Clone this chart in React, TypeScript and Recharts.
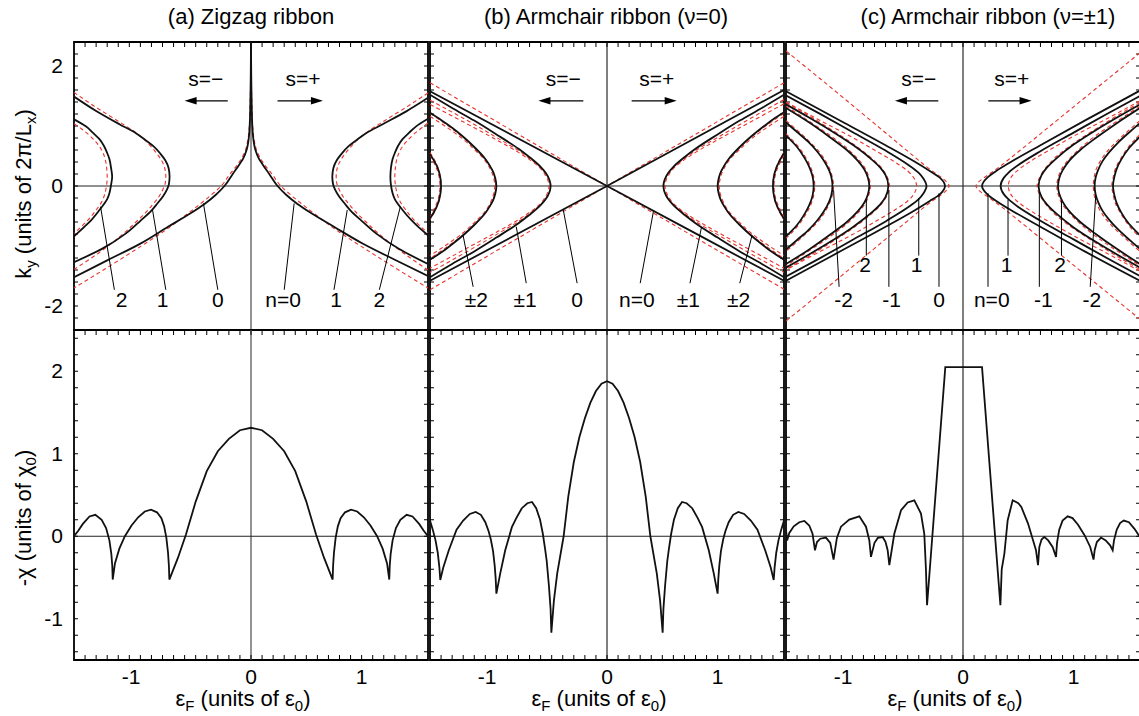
import React from "react";
import {
  ComposedChart,
  Line,
  XAxis,
  YAxis,
  ReferenceLine,
  ReferenceArea,
  ReferenceDot,
} from "recharts";

type P = number[][];

const FONT = '"Liberation Sans", Arial, Helvetica, sans-serif';
const RED = "#e8342c";

// axis ticks
const xTicks = [-1, 0, 1];
const kyTicks = [2, 0, -2];
const chiTicks = [2, 1, 0, -1];
const xMinor = [-1.5, -1.4, -1.3, -1.2, -1.1, -1, -0.9, -0.8, -0.7, -0.6, -0.5, -0.4, -0.3, -0.2, -0.1, 0, 0.1, 0.2, 0.3, 0.4, 0.5, 0.6, 0.7, 0.8, 0.9, 1, 1.1, 1.2, 1.3, 1.4, 1.5];
const kyMinor = [-2.2, -2, -1.8, -1.6, -1.4, -1.2, -1, -0.8, -0.6, -0.4, -0.2, 0, 0.2, 0.4, 0.6, 0.8, 1, 1.2, 1.4, 1.6, 1.8, 2, 2.2];
const chiMinor = [-1.4, -1.2, -1, -0.8, -0.6, -0.4, -0.2, 0, 0.2, 0.4, 0.6, 0.8, 1, 1.2, 1.4, 1.6, 1.8, 2, 2.2, 2.4];

// (a) zigzag: [eps, ky]
const zzBlkPos0 = [[0, 2.4], [0.005, 1.5], [0.012, 1.0], [0.02, 0.8], [0.04, 0.6], [0.07, 0.46], [0.105, 0.36], [0.165, 0.2], [0.24, 0], [0.32, -0.15], [0.42, -0.3], [0.55, -0.46], [0.75, -0.68], [1.0, -0.95], [1.3, -1.23], [1.6, -1.5]];
const zzBlkNeg0 = [[0, 2.4], [-0.005, 1.5], [-0.012, 1.0], [-0.02, 0.8], [-0.04, 0.6], [-0.07, 0.46], [-0.105, 0.36], [-0.165, 0.2], [-0.24, 0], [-0.32, -0.15], [-0.42, -0.3], [-0.55, -0.46], [-0.75, -0.68], [-1.0, -0.96], [-1.3, -1.24], [-1.6, -1.52]];
const zzRedPos0 = [[0, 2.4], [0.006, 1.5], [0.015, 1.0], [0.026, 0.8], [0.05, 0.6], [0.085, 0.46], [0.125, 0.35], [0.19, 0.2], [0.27, 0], [0.36, -0.15], [0.46, -0.3], [0.6, -0.5], [0.8, -0.77], [1.0, -1.01], [1.3, -1.36], [1.6, -1.7]];
const zzRedNeg0 = [[0, 2.4], [-0.006, 1.5], [-0.015, 1.0], [-0.026, 0.8], [-0.05, 0.6], [-0.085, 0.46], [-0.125, 0.35], [-0.19, 0.2], [-0.27, 0], [-0.36, -0.15], [-0.46, -0.3], [-0.6, -0.5], [-0.8, -0.77], [-1.0, -1.01], [-1.3, -1.36], [-1.6, -1.7]];
const zzBlkPos1 = [[1.6, 1.47], [1.4, 1.24], [1.19, 1.03], [1.04, 0.88], [0.95, 0.76], [0.88, 0.66], [0.82, 0.54], [0.775, 0.43], [0.745, 0.3], [0.735, 0.155], [0.742, 0.03], [0.76, -0.06], [0.795, -0.17], [0.85, -0.3], [0.9, -0.41], [1.0, -0.58], [1.13, -0.79], [1.34, -1.05], [1.6, -1.3]];
const zzBlkNeg1 = [[-1.6, 1.49], [-1.4, 1.25], [-1.19, 1.03], [-1.04, 0.88], [-0.95, 0.76], [-0.88, 0.66], [-0.82, 0.54], [-0.775, 0.43], [-0.745, 0.3], [-0.736, 0.16], [-0.742, 0.03], [-0.76, -0.06], [-0.795, -0.17], [-0.85, -0.3], [-0.9, -0.41], [-1.0, -0.58], [-1.13, -0.79], [-1.34, -1.04], [-1.6, -1.27]];
const zzRedPos1 = [[1.6, 1.55], [1.4, 1.31], [1.2, 1.08], [1.05, 0.9], [0.97, 0.78], [0.91, 0.67], [0.855, 0.55], [0.81, 0.43], [0.78, 0.3], [0.77, 0.155], [0.776, 0.04], [0.795, -0.05], [0.83, -0.17], [0.885, -0.3], [0.94, -0.42], [1.04, -0.6], [1.17, -0.82], [1.38, -1.12], [1.6, -1.4]];
const zzRedNeg1 = [[-1.6, 1.56], [-1.4, 1.31], [-1.2, 1.08], [-1.05, 0.9], [-0.97, 0.78], [-0.91, 0.67], [-0.855, 0.55], [-0.81, 0.43], [-0.78, 0.3], [-0.77, 0.155], [-0.776, 0.04], [-0.795, -0.05], [-0.83, -0.17], [-0.885, -0.3], [-0.94, -0.42], [-1.04, -0.6], [-1.17, -0.82], [-1.38, -1.12], [-1.6, -1.39]];
const zzBlkPos2 = [[1.6, 1.12], [1.49, 0.99], [1.43, 0.89], [1.37, 0.78], [1.33, 0.67], [1.3, 0.55], [1.28, 0.45], [1.265, 0.3], [1.26, 0.155], [1.265, 0.02], [1.28, -0.12], [1.3, -0.22], [1.37, -0.4], [1.45, -0.57], [1.5, -0.66], [1.6, -0.82]];
const zzBlkNeg2 = [[-1.6, 1.11], [-1.49, 0.99], [-1.43, 0.89], [-1.37, 0.78], [-1.33, 0.67], [-1.3, 0.55], [-1.28, 0.45], [-1.265, 0.3], [-1.255, 0.155], [-1.265, 0.02], [-1.28, -0.12], [-1.3, -0.22], [-1.37, -0.4], [-1.45, -0.58], [-1.5, -0.67], [-1.6, -0.84]];
const zzRedPos2 = [[1.6, 1.05], [1.53, 0.95], [1.47, 0.86], [1.4, 0.73], [1.35, 0.6], [1.32, 0.46], [1.305, 0.3], [1.3, 0.155], [1.305, 0.02], [1.32, -0.12], [1.345, -0.25], [1.4, -0.4], [1.47, -0.56], [1.53, -0.67], [1.6, -0.78]];
const zzRedNeg2 = [[-1.6, 1.04], [-1.53, 0.95], [-1.47, 0.86], [-1.4, 0.73], [-1.35, 0.6], [-1.32, 0.46], [-1.305, 0.3], [-1.3, 0.155], [-1.305, 0.02], [-1.32, -0.12], [-1.345, -0.25], [-1.4, -0.4], [-1.47, -0.56], [-1.53, -0.67], [-1.6, -0.79]];

// (b) armchair nu=0
const acBlkA = [[-1.6, 1.58], [0, 0], [1.6, -1.58]];
const acBlkB = [[-1.6, -1.58], [0, 0], [1.6, 1.6]];
const acRedA = [[-1.6, 1.72], [0, 0], [1.6, -1.72]];
const acRedB = [[-1.6, -1.73], [0, 0], [1.6, 1.72]];
const acBlkPos1 = [[1.6, 1.52], [1.4, 1.3], [1.2, 1.09], [1.0, 0.86], [0.8, 0.62], [0.7, 0.48], [0.6, 0.32], [0.55, 0.21], [0.52, 0.1], [0.51, 0], [0.52, -0.1], [0.55, -0.21], [0.6, -0.32], [0.7, -0.48], [0.8, -0.62], [1.0, -0.86], [1.2, -1.09], [1.4, -1.3], [1.6, -1.52]];
const acBlkNeg1 = [[-1.6, 1.52], [-1.4, 1.3], [-1.2, 1.09], [-1.0, 0.86], [-0.8, 0.62], [-0.7, 0.48], [-0.6, 0.32], [-0.55, 0.21], [-0.52, 0.1], [-0.51, 0], [-0.52, -0.1], [-0.55, -0.21], [-0.6, -0.32], [-0.7, -0.48], [-0.8, -0.62], [-1.0, -0.86], [-1.2, -1.09], [-1.4, -1.3], [-1.6, -1.52]];
const acBlkPos2 = [[1.6, 1.23], [1.5, 1.11], [1.4, 0.97], [1.3, 0.82], [1.2, 0.65], [1.1, 0.45], [1.06, 0.34], [1.03, 0.24], [1.01, 0.13], [1.0, 0], [1.01, -0.13], [1.03, -0.24], [1.06, -0.34], [1.1, -0.45], [1.2, -0.65], [1.3, -0.82], [1.4, -0.97], [1.5, -1.11], [1.6, -1.23]];
const acBlkNeg2 = [[-1.6, 1.22], [-1.5, 1.1], [-1.4, 0.97], [-1.3, 0.82], [-1.2, 0.65], [-1.1, 0.45], [-1.06, 0.34], [-1.03, 0.24], [-1.01, 0.13], [-1.0, 0], [-1.01, -0.13], [-1.03, -0.24], [-1.06, -0.34], [-1.1, -0.45], [-1.2, -0.65], [-1.3, -0.82], [-1.4, -0.97], [-1.5, -1.11], [-1.6, -1.23]];
const acBlkPos3 = [[1.6, 0.55], [1.56, 0.42], [1.53, 0.3], [1.51, 0.17], [1.5, 0], [1.51, -0.17], [1.53, -0.3], [1.56, -0.42], [1.6, -0.55]];
const acBlkNeg3 = [[-1.6, 0.53], [-1.56, 0.41], [-1.53, 0.3], [-1.51, 0.17], [-1.5, 0], [-1.51, -0.17], [-1.53, -0.3], [-1.56, -0.42], [-1.6, -0.54]];
const acRedPos1a = [[1.6, 1.44], [1.3, 1.13], [1.0, 0.81], [0.8, 0.59], [0.7, 0.46], [0.6, 0.31], [0.55, 0.2], [0.52, 0.1], [0.508, 0], [0.52, -0.1], [0.55, -0.2], [0.6, -0.31], [0.7, -0.46], [0.8, -0.59], [1.0, -0.81], [1.3, -1.13], [1.6, -1.44]];
const acRedPos1b = [[1.6, 1.37], [1.3, 1.07], [1.0, 0.77], [0.8, 0.56], [0.7, 0.44], [0.6, 0.29], [0.56, 0.19], [0.535, 0.1], [0.525, 0], [0.535, -0.1], [0.56, -0.19], [0.6, -0.29], [0.7, -0.44], [0.8, -0.56], [1.0, -0.77], [1.3, -1.07], [1.6, -1.37]];
const acRedNeg1a = [[-1.6, 1.43], [-1.3, 1.13], [-1.0, 0.81], [-0.8, 0.59], [-0.7, 0.46], [-0.6, 0.31], [-0.55, 0.2], [-0.52, 0.1], [-0.508, 0], [-0.52, -0.1], [-0.55, -0.2], [-0.6, -0.31], [-0.7, -0.46], [-0.8, -0.59], [-1.0, -0.81], [-1.3, -1.13], [-1.6, -1.44]];
const acRedNeg1b = [[-1.6, 1.36], [-1.3, 1.07], [-1.0, 0.77], [-0.8, 0.56], [-0.7, 0.44], [-0.6, 0.29], [-0.56, 0.19], [-0.535, 0.1], [-0.525, 0], [-0.535, -0.1], [-0.56, -0.19], [-0.6, -0.29], [-0.7, -0.44], [-0.8, -0.56], [-1.0, -0.77], [-1.3, -1.07], [-1.6, -1.37]];
const acRedPos2a = [[1.6, 1.21], [1.45, 1.02], [1.3, 0.81], [1.2, 0.64], [1.1, 0.45], [1.05, 0.31], [1.02, 0.18], [1.005, 0], [1.02, -0.18], [1.05, -0.31], [1.1, -0.45], [1.2, -0.64], [1.3, -0.81], [1.45, -1.02], [1.6, -1.21]];
const acRedPos2b = [[1.6, 1.16], [1.45, 0.98], [1.3, 0.78], [1.2, 0.61], [1.1, 0.42], [1.06, 0.3], [1.03, 0.17], [1.015, 0], [1.03, -0.17], [1.06, -0.3], [1.1, -0.42], [1.2, -0.61], [1.3, -0.78], [1.45, -0.98], [1.6, -1.16]];
const acRedNeg2a = [[-1.6, 1.21], [-1.45, 1.02], [-1.3, 0.81], [-1.2, 0.64], [-1.1, 0.45], [-1.05, 0.31], [-1.02, 0.18], [-1.005, 0], [-1.02, -0.18], [-1.05, -0.31], [-1.1, -0.45], [-1.2, -0.64], [-1.3, -0.81], [-1.45, -1.02], [-1.6, -1.21]];
const acRedNeg2b = [[-1.6, 1.16], [-1.45, 0.98], [-1.3, 0.78], [-1.2, 0.61], [-1.1, 0.42], [-1.06, 0.3], [-1.03, 0.17], [-1.015, 0], [-1.03, -0.17], [-1.06, -0.3], [-1.1, -0.42], [-1.2, -0.61], [-1.3, -0.78], [-1.45, -0.98], [-1.6, -1.16]];
const acRedPos3a = [[1.6, 0.56], [1.55, 0.4], [1.52, 0.26], [1.505, 0.13], [1.5, 0], [1.505, -0.13], [1.52, -0.26], [1.55, -0.4], [1.6, -0.56]];
const acRedPos3b = [[1.6, 0.52], [1.56, 0.37], [1.53, 0.24], [1.515, 0.12], [1.51, 0], [1.515, -0.12], [1.53, -0.24], [1.56, -0.37], [1.6, -0.52]];
const acRedNeg3a = [[-1.6, 0.56], [-1.55, 0.4], [-1.52, 0.26], [-1.505, 0.13], [-1.5, 0], [-1.505, -0.13], [-1.52, -0.26], [-1.55, -0.4], [-1.6, -0.56]];
const acRedNeg3b = [[-1.6, 0.52], [-1.56, 0.37], [-1.53, 0.24], [-1.515, 0.12], [-1.51, 0], [-1.515, -0.12], [-1.53, -0.24], [-1.56, -0.37], [-1.6, -0.52]];

// (c) armchair nu=+-1
const cBlkPos0 = [[1.6, 1.59], [1.1, 1.09], [0.7, 0.68], [0.45, 0.42], [0.3, 0.25], [0.22, 0.14], [0.172, 0], [0.22, -0.14], [0.3, -0.25], [0.45, -0.42], [0.7, -0.68], [1.1, -1.09], [1.6, -1.58]];
const cBlkNeg0 = [[-1.6, 1.58], [-1.1, 1.08], [-0.7, 0.68], [-0.45, 0.42], [-0.3, 0.25], [-0.21, 0.14], [-0.163, 0], [-0.21, -0.14], [-0.3, -0.25], [-0.45, -0.42], [-0.7, -0.68], [-1.1, -1.08], [-1.6, -1.58]];
const cBlkPos1 = [[1.6, 1.5], [1.3, 1.2], [1.0, 0.89], [0.7, 0.58], [0.5, 0.35], [0.41, 0.22], [0.37, 0.14], [0.34, 0], [0.37, -0.14], [0.41, -0.22], [0.5, -0.35], [0.7, -0.58], [1.0, -0.89], [1.3, -1.2], [1.6, -1.5]];
const cBlkNeg1 = [[-1.6, 1.51], [-1.3, 1.21], [-1.0, 0.9], [-0.7, 0.59], [-0.5, 0.36], [-0.4, 0.22], [-0.36, 0.13], [-0.33, 0], [-0.36, -0.13], [-0.4, -0.22], [-0.5, -0.36], [-0.7, -0.59], [-1.0, -0.9], [-1.3, -1.21], [-1.6, -1.51]];
const cBlkPosM1 = [[1.6, 1.36], [1.4, 1.15], [1.2, 0.93], [1.0, 0.69], [0.85, 0.47], [0.76, 0.31], [0.71, 0.18], [0.683, 0], [0.71, -0.18], [0.76, -0.31], [0.85, -0.47], [1.0, -0.69], [1.2, -0.93], [1.4, -1.15], [1.6, -1.36]];
const cBlkNegM1 = [[-1.6, 1.36], [-1.4, 1.15], [-1.2, 0.93], [-1.0, 0.69], [-0.85, 0.48], [-0.75, 0.31], [-0.7, 0.18], [-0.675, 0], [-0.7, -0.18], [-0.75, -0.31], [-0.85, -0.48], [-1.0, -0.69], [-1.2, -0.93], [-1.4, -1.15], [-1.6, -1.36]];
const cBlkPos2 = [[1.6, 1.3], [1.4, 1.06], [1.2, 0.8], [1.06, 0.6], [0.96, 0.42], [0.9, 0.26], [0.87, 0.13], [0.859, 0], [0.87, -0.13], [0.9, -0.26], [0.96, -0.42], [1.06, -0.6], [1.2, -0.8], [1.4, -1.06], [1.6, -1.3]];
const cBlkNeg2 = [[-1.6, 1.3], [-1.4, 1.07], [-1.2, 0.81], [-1.05, 0.6], [-0.95, 0.42], [-0.89, 0.27], [-0.86, 0.14], [-0.847, 0], [-0.86, -0.14], [-0.89, -0.27], [-0.95, -0.42], [-1.05, -0.6], [-1.2, -0.81], [-1.4, -1.07], [-1.6, -1.3]];
const cBlkPosM2 = [[1.6, 1.05], [1.5, 0.89], [1.4, 0.72], [1.32, 0.56], [1.26, 0.41], [1.22, 0.26], [1.2, 0.15], [1.19, 0], [1.2, -0.15], [1.22, -0.26], [1.26, -0.41], [1.32, -0.56], [1.4, -0.72], [1.5, -0.89], [1.6, -1.05]];
const cBlkNegM2 = [[-1.6, 1.06], [-1.5, 0.9], [-1.4, 0.74], [-1.32, 0.58], [-1.26, 0.43], [-1.21, 0.26], [-1.19, 0.15], [-1.18, 0], [-1.19, -0.15], [-1.21, -0.26], [-1.26, -0.43], [-1.32, -0.58], [-1.4, -0.74], [-1.5, -0.9], [-1.6, -1.06]];
const cBlkPos3 = [[1.6, 0.82], [1.5, 0.63], [1.43, 0.44], [1.39, 0.29], [1.37, 0.165], [1.356, 0], [1.37, -0.165], [1.39, -0.29], [1.43, -0.44], [1.5, -0.63], [1.6, -0.82]];
const cBlkNeg3 = [[-1.6, 0.84], [-1.5, 0.65], [-1.43, 0.46], [-1.39, 0.32], [-1.36, 0.16], [-1.35, 0], [-1.36, -0.16], [-1.39, -0.32], [-1.43, -0.46], [-1.5, -0.65], [-1.6, -0.84]];
const cRedPosV = [[1.6, 2.22], [1.2, 1.62], [0.8, 1.02], [0.5, 0.57], [0.3, 0.28], [0.2, 0.15], [0.155, 0.09], [0.128, 0.04], [0.117, 0], [0.128, -0.04], [0.155, -0.09], [0.2, -0.15], [0.3, -0.28], [0.5, -0.57], [0.8, -1.02], [1.2, -1.62], [1.6, -2.22]];
const cRedNegV = [[-1.6, 2.25], [-1.2, 1.65], [-0.8, 1.04], [-0.5, 0.58], [-0.3, 0.28], [-0.2, 0.15], [-0.16, 0.09], [-0.135, 0.04], [-0.125, 0], [-0.135, -0.04], [-0.16, -0.09], [-0.2, -0.15], [-0.3, -0.28], [-0.5, -0.58], [-0.8, -1.04], [-1.2, -1.65], [-1.6, -2.25]];
const cRedPos1 = [[1.6, 1.42], [1.3, 1.12], [1.0, 0.83], [0.8, 0.62], [0.6, 0.4], [0.5, 0.27], [0.44, 0.16], [0.41, 0], [0.44, -0.16], [0.5, -0.27], [0.6, -0.4], [0.8, -0.62], [1.0, -0.83], [1.3, -1.12], [1.6, -1.42]];
const cRedNeg1 = [[-1.6, 1.4], [-1.3, 1.1], [-1.0, 0.81], [-0.8, 0.6], [-0.6, 0.38], [-0.5, 0.25], [-0.45, 0.15], [-0.42, 0], [-0.45, -0.15], [-0.5, -0.25], [-0.6, -0.38], [-0.8, -0.6], [-1.0, -0.81], [-1.3, -1.1], [-1.6, -1.4]];
const cRedPosM1 = [[1.6, 1.39], [1.4, 1.18], [1.2, 0.95], [1.0, 0.71], [0.85, 0.5], [0.76, 0.33], [0.7, 0.17], [0.67, 0], [0.7, -0.17], [0.76, -0.33], [0.85, -0.5], [1.0, -0.71], [1.2, -0.95], [1.4, -1.18], [1.6, -1.39]];
const cRedNegM1 = [[-1.6, 1.39], [-1.4, 1.18], [-1.2, 0.95], [-1.0, 0.71], [-0.85, 0.5], [-0.75, 0.33], [-0.69, 0.17], [-0.665, 0], [-0.69, -0.17], [-0.75, -0.33], [-0.85, -0.5], [-1.0, -0.71], [-1.2, -0.95], [-1.4, -1.18], [-1.6, -1.39]];
const cRedPos2 = [[1.6, 1.33], [1.4, 1.09], [1.2, 0.84], [1.06, 0.63], [0.96, 0.45], [0.89, 0.28], [0.86, 0.14], [0.848, 0], [0.86, -0.14], [0.89, -0.28], [0.96, -0.45], [1.06, -0.63], [1.2, -0.84], [1.4, -1.09], [1.6, -1.33]];
const cRedNeg2 = [[-1.6, 1.33], [-1.4, 1.09], [-1.2, 0.84], [-1.05, 0.63], [-0.95, 0.45], [-0.88, 0.28], [-0.85, 0.14], [-0.837, 0], [-0.85, -0.14], [-0.88, -0.28], [-0.95, -0.45], [-1.05, -0.63], [-1.2, -0.84], [-1.4, -1.09], [-1.6, -1.33]];
const cRedPosM2 = [[1.6, 1.09], [1.5, 0.93], [1.4, 0.76], [1.3, 0.57], [1.24, 0.41], [1.2, 0.26], [1.185, 0.14], [1.178, 0], [1.185, -0.14], [1.2, -0.26], [1.24, -0.41], [1.3, -0.57], [1.4, -0.76], [1.5, -0.93], [1.6, -1.09]];
const cRedNegM2 = [[-1.6, 1.09], [-1.5, 0.93], [-1.4, 0.76], [-1.3, 0.57], [-1.24, 0.41], [-1.2, 0.26], [-1.18, 0.14], [-1.17, 0], [-1.18, -0.14], [-1.2, -0.26], [-1.24, -0.41], [-1.3, -0.57], [-1.4, -0.76], [-1.5, -0.93], [-1.6, -1.09]];
const cRedPos3 = [[1.6, 0.86], [1.5, 0.66], [1.43, 0.47], [1.38, 0.3], [1.355, 0.12], [1.345, 0], [1.355, -0.12], [1.38, -0.3], [1.43, -0.47], [1.5, -0.66], [1.6, -0.86]];
const cRedNeg3 = [[-1.6, 0.87], [-1.5, 0.68], [-1.43, 0.5], [-1.38, 0.33], [-1.35, 0.16], [-1.34, 0], [-1.35, -0.16], [-1.38, -0.33], [-1.43, -0.5], [-1.5, -0.68], [-1.6, -0.87]];

// -chi curves: [epsF, -chi]
const chiZig = [[-1.6, 0.0], [-1.56, 0.07], [-1.52, 0.15], [-1.46, 0.24], [-1.407, 0.26], [-1.35, 0.2], [-1.31, 0.1], [-1.28, -0.05], [-1.262, -0.22], [-1.254, -0.36], [-1.25, -0.525], [-1.23, -0.33], [-1.19, -0.15], [-1.14, 0.0], [-1.08, 0.13], [-1.02, 0.23], [-0.96, 0.3], [-0.904, 0.323], [-0.85, 0.29], [-0.81, 0.22], [-0.785, 0.12], [-0.765, -0.02], [-0.75, -0.2], [-0.742, -0.36], [-0.738, -0.525], [-0.66, -0.26], [-0.588, 0.02], [-0.5, 0.42], [-0.4, 0.79], [-0.3, 1.03], [-0.2, 1.18], [-0.1, 1.285], [0, 1.315], [0.1, 1.285], [0.2, 1.18], [0.3, 1.03], [0.4, 0.79], [0.5, 0.42], [0.588, 0.02], [0.66, -0.26], [0.738, -0.525], [0.742, -0.36], [0.75, -0.2], [0.765, -0.02], [0.785, 0.12], [0.81, 0.22], [0.85, 0.29], [0.904, 0.323], [0.96, 0.3], [1.02, 0.23], [1.08, 0.13], [1.14, 0.0], [1.19, -0.15], [1.23, -0.33], [1.25, -0.525], [1.254, -0.36], [1.262, -0.22], [1.28, -0.05], [1.31, 0.1], [1.35, 0.2], [1.407, 0.26], [1.46, 0.24], [1.52, 0.15], [1.56, 0.07], [1.6, 0.0]];
const chiArm0 = [[-1.6, 0.19], [-1.575, 0.08], [-1.55, -0.05], [-1.53, -0.2], [-1.515, -0.38], [-1.507, -0.53], [-1.48, -0.38], [-1.43, -0.17], [-1.36, 0.08], [-1.3, 0.19], [-1.24, 0.27], [-1.187, 0.295], [-1.14, 0.26], [-1.1, 0.17], [-1.07, 0.06], [-1.05, -0.04], [-1.03, -0.18], [-1.015, -0.36], [-1.006, -0.52], [-1.0, -0.695], [-0.965, -0.45], [-0.92, -0.17], [-0.86, 0.11], [-0.82, 0.22], [-0.77, 0.34], [-0.72, 0.4], [-0.678, 0.416], [-0.64, 0.34], [-0.605, 0.2], [-0.58, 0.03], [-0.56, -0.15], [-0.545, -0.3], [-0.525, -0.6], [-0.51, -0.88], [-0.503, -1.17], [-0.48, -0.78], [-0.45, -0.45], [-0.392, 0], [-0.35, 0.48], [-0.3, 0.9], [-0.25, 1.2], [-0.2, 1.43], [-0.15, 1.62], [-0.1, 1.76], [-0.05, 1.85], [0, 1.879], [0.05, 1.85], [0.1, 1.76], [0.15, 1.62], [0.2, 1.43], [0.25, 1.2], [0.3, 0.9], [0.35, 0.48], [0.392, 0], [0.45, -0.45], [0.48, -0.78], [0.503, -1.17], [0.51, -0.88], [0.525, -0.6], [0.545, -0.3], [0.56, -0.15], [0.58, 0.03], [0.605, 0.2], [0.64, 0.34], [0.678, 0.416], [0.72, 0.4], [0.77, 0.34], [0.82, 0.22], [0.86, 0.11], [0.92, -0.17], [0.965, -0.45], [1.0, -0.695], [1.006, -0.52], [1.015, -0.36], [1.03, -0.18], [1.05, -0.04], [1.07, 0.06], [1.1, 0.17], [1.14, 0.26], [1.187, 0.295], [1.24, 0.27], [1.3, 0.19], [1.36, 0.08], [1.43, -0.17], [1.48, -0.38], [1.507, -0.53], [1.515, -0.38], [1.53, -0.2], [1.55, -0.05], [1.575, 0.08], [1.6, 0.19]];
const chiArm1 = [[-1.6, 0.08], [-1.59, -0.05], [-1.57, 0.04], [-1.53, 0.12], [-1.48, 0.17], [-1.434, 0.186], [-1.39, 0.13], [-1.36, 0.03], [-1.338, -0.17], [-1.32, -0.07], [-1.29, -0.03], [-1.239, -0.016], [-1.2, -0.08], [-1.17, -0.283], [-1.14, -0.02], [-1.103, 0.116], [-1.028, 0.202], [-0.937, 0.242], [-0.877, 0.116], [-0.847, -0.048], [-0.832, -0.25], [-0.8, -0.08], [-0.77, -0.02], [-0.726, -0.01], [-0.7, -0.07], [-0.681, -0.17], [-0.666, -0.35], [-0.621, 0.03], [-0.56, 0.315], [-0.5, 0.41], [-0.44, 0.436], [-0.38, 0.275], [-0.35, 0.03], [-0.335, -0.4], [-0.325, -0.836], [-0.16, 2.05], [0.172, 2.05], [0.338, -0.836], [0.35, -0.4], [0.374, -0.21], [0.404, 0.194], [0.449, 0.436], [0.5, 0.4], [0.527, 0.356], [0.588, 0.154], [0.633, -0.048], [0.66, -0.17], [0.678, -0.35], [0.69, -0.13], [0.71, -0.04], [0.735, -0.008], [0.77, -0.05], [0.81, -0.13], [0.841, -0.25], [0.85, -0.08], [0.87, 0.08], [0.9, 0.19], [0.946, 0.242], [0.99, 0.22], [1.04, 0.14], [1.1, 0.01], [1.15, -0.13], [1.18, -0.283], [1.19, -0.17], [1.21, -0.07], [1.248, -0.016], [1.29, -0.05], [1.33, -0.11], [1.353, -0.17], [1.365, -0.05], [1.39, 0.08], [1.42, 0.16], [1.453, 0.19], [1.5, 0.17], [1.55, 0.09], [1.6, -0.01]];

// annotations: text at [eps, ky]; leaders and arrows as [x1, y1, x2, y2]
type Note = { x: number; y: number; t: string };
const notesA: Note[] = [
  { x: -0.41, y: 1.79, t: "s=\u2212" }, { x: 0.47, y: 1.79, t: "s=+" },
  { x: -1.17, y: -1.9, t: "2" }, { x: -0.8, y: -1.9, t: "1" }, { x: -0.3, y: -1.9, t: "0" },
  { x: 0.29, y: -1.9, t: "n=0" }, { x: 0.77, y: -1.9, t: "1" }, { x: 1.16, y: -1.9, t: "2" },
];
const leadersA = [[-1.235, -1.73, -1.36, -0.345], [-0.77, -1.73, -0.89, -0.4], [-0.3, -1.73, -0.43, -0.29], [0.3, -1.73, 0.39, -0.29], [0.75, -1.73, 0.87, -0.4], [1.16, -1.73, 1.35, -0.345]];
const arrowsA = [[-0.21, 1.42, -0.6, 1.42], [0.24, 1.42, 0.65, 1.42]];

const notesB: Note[] = [
  { x: -0.395, y: 1.79, t: "s=\u2212" }, { x: 0.45, y: 1.79, t: "s=+" },
  { x: -1.18, y: -1.9, t: "\u00b12" }, { x: -0.74, y: -1.9, t: "\u00b11" }, { x: -0.27, y: -1.9, t: "0" },
  { x: 0.27, y: -1.9, t: "n=0" }, { x: 0.735, y: -1.9, t: "\u00b11" }, { x: 1.19, y: -1.9, t: "\u00b12" },
];
const leadersB = [[-1.21, -1.68, -1.3, -0.83], [-0.73, -1.62, -0.82, -0.68], [-0.27, -1.62, -0.395, -0.4], [0.3, -1.62, 0.42, -0.42], [0.75, -1.62, 0.855, -0.68], [1.2, -1.62, 1.31, -0.83]];
const arrowsB = [[-0.214, 1.42, -0.62, 1.42], [0.223, 1.42, 0.63, 1.42]];

const notesC: Note[] = [
  { x: -0.4, y: 1.79, t: "s=\u2212" }, { x: 0.44, y: 1.79, t: "s=+" },
  { x: -0.886, y: -1.32, t: "2" }, { x: -0.42, y: -1.32, t: "1" }, { x: 0.395, y: -1.32, t: "1" }, { x: 0.877, y: -1.32, t: "2" },
  { x: -1.08, y: -1.9, t: "-2" }, { x: -0.645, y: -1.9, t: "-1" }, { x: -0.217, y: -1.9, t: "0" },
  { x: 0.26, y: -1.9, t: "n=0" }, { x: 0.726, y: -1.9, t: "-1" }, { x: 1.164, y: -1.9, t: "-2" },
];
const leadersC = [[-0.874, -1.16, -0.874, -0.23], [-0.4, -1.16, -0.4, -0.2], [0.407, -1.16, 0.407, -0.23], [0.89, -1.16, 0.89, -0.25], [-1.12, -1.68, -1.17, -0.07], [-0.67, -1.68, -0.67, -0.07], [-0.217, -1.68, -0.217, -0.12], [0.226, -1.68, 0.226, -0.12], [0.69, -1.68, 0.69, -0.1], [1.15, -1.68, 1.2, -0.15]];
const arrowsC = [[-0.223, 1.42, -0.615, 1.42], [0.229, 1.42, 0.62, 1.42]];

const toRows = (p: P) => p.map(([x, y]) => ({ x, y }));

const PLOT_W = 354;
const ML = 74;

const ArrowShape = (p: any) => {
  const { x1, y1, x2, y2 } = p;
  const dir = Math.sign(x2 - x1);
  const hx = x2 - dir * 12;
  return (
    <g>
      <line x1={x1} y1={y1} x2={hx + dir * 2} y2={y2} stroke="#000" strokeWidth={1.3} />
      <polygon points={`${x2},${y2} ${hx},${y2 - 3.8} ${hx},${y2 + 3.8}`} fill="#000" />
    </g>
  );
};

// short inward tick marks drawn at the ends of a reference line
const xTickShape = (withBottom: boolean) => (p: any) => {
  const top = Math.min(p.y1, p.y2);
  const bot = Math.max(p.y1, p.y2);
  return (
    <g>
      <line x1={p.x1} x2={p.x1} y1={top} y2={top + 5} stroke="#000" strokeWidth={1} />
      {withBottom && <line x1={p.x1} x2={p.x1} y1={bot - 5} y2={bot} stroke="#000" strokeWidth={1} />}
    </g>
  );
};
const yTickShape = (p: any) => {
  const l = Math.min(p.x1, p.x2);
  const r = Math.max(p.x1, p.x2);
  return (
    <g>
      <line x1={l} x2={l + 4} y1={p.y1} y2={p.y1} stroke="#000" strokeWidth={1} />
      <line x1={r - 4} x2={r} y1={p.y1} y2={p.y1} stroke="#000" strokeWidth={1} />
    </g>
  );
};
const xLabelShape = (v: number) => (p: any) => {
  const bot = Math.max(p.y1, p.y2);
  return (
    <text x={p.x1} y={bot + 24} textAnchor={v < 0 ? "end" : "middle"} fontSize={21} fontFamily={FONT} fill="#000">
      {String(v)}
    </text>
  );
};

const yTick = (p: any) => (
  <text x={p.x - 11} y={p.y + 7} textAnchor="end" fontSize={21} fontFamily={FONT} fill="#000">
    {String(p.payload.value)}
  </text>
);

interface PanelProps {
  left: number;
  top: number;
  h: number;
  yDomain: number[];
  yMinor: number[];
  blacks: P[];
  reds: P[];
  bottom: boolean;
  yLabels?: number[];
  notes?: Note[];
  leaders?: number[][];
  arrows?: number[][];
  zeroColor: string;
}

function Panel(props: PanelProps) {
  const MT = 12;
  const MR = 12;
  const MB = props.bottom ? 50 : 12;
  const W = ML + PLOT_W + MR;
  const H = MT + props.h + MB;
  const xd = [-1.6, 1.6];
  const yd = props.yDomain;
  const curve = props.bottom ? "linear" : "monotoneY";
  const margin = { top: MT, right: MR, bottom: MB, left: props.yLabels ? ML - 1 : ML };
  return (
    <div style={{ position: "absolute", left: props.left - ML, top: props.top - MT }}>
      <ComposedChart width={W} height={H} margin={margin}>
        <XAxis xAxisId="m" dataKey="x" type="number" domain={xd} allowDataOverflow hide />
        <YAxis yAxisId="m" dataKey="y" type="number" domain={yd} allowDataOverflow hide />
        {props.yLabels && (
          <YAxis yAxisId="ll" orientation="left" type="number" domain={yd} allowDataOverflow ticks={props.yLabels} interval={0} tick={yTick} tickLine={false} tickSize={0} tickMargin={0} axisLine={false} width={1} />
        )}

        <ReferenceLine xAxisId="m" yAxisId="m" x={0} stroke={props.zeroColor} strokeWidth={props.zeroColor === "#000" ? 1 : 1.6} />
        <ReferenceLine xAxisId="m" yAxisId="m" y={0} stroke="#222" strokeWidth={1} />

        {xMinor.map((v, i) => (
          <ReferenceLine key={"xt" + i} xAxisId="m" yAxisId="m" x={v} ifOverflow="visible" shape={xTickShape(props.bottom)} />
        ))}
        {props.yMinor.map((v, i) => (
          <ReferenceLine key={"yt" + i} xAxisId="m" yAxisId="m" y={v} ifOverflow="visible" shape={yTickShape} />
        ))}
        {props.bottom && xTicks.map((v, i) => (
          <ReferenceLine key={"xl" + i} xAxisId="m" yAxisId="m" x={v} ifOverflow="visible" shape={xLabelShape(v)} />
        ))}

        {props.reds.map((p, i) => (
          <Line key={"r" + i} xAxisId="m" yAxisId="m" data={toRows(p)} dataKey="y" type={curve as any}
            stroke={RED} strokeWidth={1.1} strokeDasharray="4 3" dot={false} activeDot={false} isAnimationActive={false} />
        ))}
        {props.blacks.map((p, i) => (
          <Line key={"b" + i} xAxisId="m" yAxisId="m" data={toRows(p)} dataKey="y" type={curve as any}
            stroke="#111" strokeWidth={1.8} dot={false} activeDot={false} isAnimationActive={false} />
        ))}

        {(props.leaders || []).map((s, i) => (
          <ReferenceLine key={"l" + i} xAxisId="m" yAxisId="m" segment={[{ x: s[0], y: s[1] }, { x: s[2], y: s[3] }]}
            stroke="#000" strokeWidth={1} ifOverflow="visible" />
        ))}
        {(props.arrows || []).map((s, i) => (
          <ReferenceLine key={"a" + i} xAxisId="m" yAxisId="m" segment={[{ x: s[0], y: s[1] }, { x: s[2], y: s[3] }]}
            ifOverflow="visible" shape={ArrowShape} />
        ))}
        {(props.notes || []).map((n, i) => (
          <ReferenceDot key={"n" + i} xAxisId="m" yAxisId="m" x={n.x} y={n.y} r={0} ifOverflow="visible"
            shape={(d: any) => (
              <text x={d.cx} y={d.cy + 7} textAnchor="middle" fontSize={21} fontFamily={FONT} fill="#000">
                {n.t}
              </text>
            )} />
        ))}

        <ReferenceArea xAxisId="m" yAxisId="m" x1={xd[0]} x2={xd[1]} y1={yd[0]} y2={yd[1]}
          fill="none" fillOpacity={0} stroke="#000" strokeWidth={1.8} ifOverflow="visible" />
      </ComposedChart>
    </div>
  );
}

const LEFTS = [74, 430, 786];
const TOP_Y = 42;
const TOP_H = 288;
const BOT_Y = 330;
const BOT_H = 330;

const txt: React.CSSProperties = {
  position: "absolute",
  fontFamily: FONT,
  fontSize: 22,
  color: "#000",
  whiteSpace: "nowrap",
  lineHeight: 1,
};
const sub: React.CSSProperties = { fontSize: "0.68em", verticalAlign: "-0.3em" };

export default function App() {
  return (
    <div style={{ position: "absolute", left: 0, top: 0, width: 1139, height: 716, overflow: "hidden", background: "#fff" }}>
      <Panel left={LEFTS[0]} top={TOP_Y} h={TOP_H} yDomain={[-2.4, 2.4]} yMinor={kyMinor} yLabels={kyTicks} bottom={false} zeroColor="#777"
        reds={[zzRedPos0, zzRedNeg0, zzRedPos1, zzRedNeg1, zzRedPos2, zzRedNeg2]}
        blacks={[zzBlkPos0, zzBlkNeg0, zzBlkPos1, zzBlkNeg1, zzBlkPos2, zzBlkNeg2]}
        notes={notesA} leaders={leadersA} arrows={arrowsA} />
      <Panel left={LEFTS[1]} top={TOP_Y} h={TOP_H} yDomain={[-2.4, 2.4]} yMinor={kyMinor} bottom={false} zeroColor="#000"
        reds={[acRedA, acRedB, acRedPos1a, acRedPos1b, acRedNeg1a, acRedNeg1b, acRedPos2a, acRedPos2b, acRedNeg2a, acRedNeg2b, acRedPos3a, acRedPos3b, acRedNeg3a, acRedNeg3b]}
        blacks={[acBlkA, acBlkB, acBlkPos1, acBlkNeg1, acBlkPos2, acBlkNeg2, acBlkPos3, acBlkNeg3]}
        notes={notesB} leaders={leadersB} arrows={arrowsB} />
      <Panel left={LEFTS[2]} top={TOP_Y} h={TOP_H} yDomain={[-2.4, 2.4]} yMinor={kyMinor} bottom={false} zeroColor="#000"
        reds={[cRedPosV, cRedNegV, cRedPos1, cRedNeg1, cRedPosM1, cRedNegM1, cRedPos2, cRedNeg2, cRedPosM2, cRedNegM2, cRedPos3, cRedNeg3]}
        blacks={[cBlkPos0, cBlkNeg0, cBlkPos1, cBlkNeg1, cBlkPosM1, cBlkNegM1, cBlkPos2, cBlkNeg2, cBlkPosM2, cBlkNegM2, cBlkPos3, cBlkNeg3]}
        notes={notesC} leaders={leadersC} arrows={arrowsC} />

      <Panel left={LEFTS[0]} top={BOT_Y} h={BOT_H} yDomain={[-1.5, 2.5]} yMinor={chiMinor} yLabels={chiTicks} bottom zeroColor="#777"
        reds={[]} blacks={[chiZig]} />
      <Panel left={LEFTS[1]} top={BOT_Y} h={BOT_H} yDomain={[-1.5, 2.5]} yMinor={chiMinor} bottom zeroColor="#000"
        reds={[]} blacks={[chiArm0]} />
      <Panel left={LEFTS[2]} top={BOT_Y} h={BOT_H} yDomain={[-1.5, 2.5]} yMinor={chiMinor} bottom zeroColor="#000"
        reds={[]} blacks={[chiArm1]} />

      <div style={{ ...txt, left: 251, top: 17, transform: "translate(-50%, -50%)" }}>(a) Zigzag ribbon</div>
      <div style={{ ...txt, left: 606, top: 17, transform: "translate(-50%, -50%)" }}>(b) Armchair ribbon (&nu;=0)</div>
      <div style={{ ...txt, left: 988, top: 17, transform: "translate(-50%, -50%)" }}>(c) Armchair ribbon (&nu;=&plusmn;1)</div>

      <div style={{ ...txt, left: 26, top: 194, transform: "translate(-50%, -50%) rotate(-90deg)" }}>
        k<span style={sub}>y</span> (units of 2&pi;/L<span style={sub}>x</span>)
      </div>
      <div style={{ ...txt, left: 26, top: 518, transform: "translate(-50%, -50%) rotate(-90deg)" }}>
        -&chi; (units of &chi;<span style={sub}>0</span>)
      </div>

      {[243, 599, 955].map((cx) => (
        <div key={cx} style={{ ...txt, left: cx, top: 701, transform: "translate(-50%, -50%)" }}>
          &epsilon;<span style={sub}>F</span> (units of &epsilon;<span style={sub}>0</span>)
        </div>
      ))}
    </div>
  );
}
